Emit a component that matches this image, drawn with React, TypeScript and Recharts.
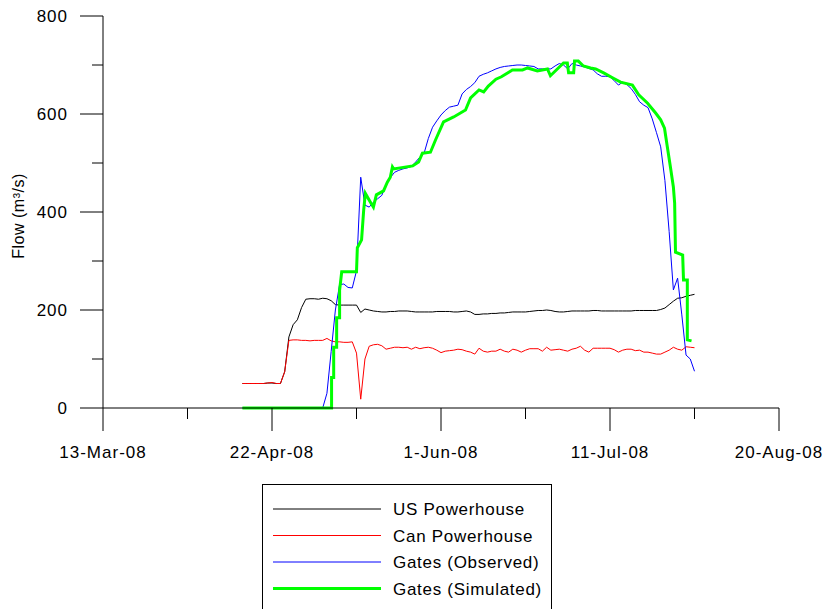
import { LineChart, Line, XAxis, YAxis } from "recharts";

// days counted from 13-Mar-08
const START_DAY = 33;
const X_TICKS = [0, 20, 40, 60, 80, 100, 120, 140, 160];
const Y_TICKS = [0, 100, 200, 300, 400, 500, 600, 700, 800];
const MONTHS = ["Jan", "Feb", "Mar", "Apr", "May", "Jun", "Jul", "Aug", "Sep", "Oct", "Nov", "Dec"];

// daily flows, m3/s
const usPowerhouse = [
  50, 50, 50, 50, 50, 50, 51, 51, 50, 50,
  74, 145, 170, 180, 205, 222, 223, 223, 222, 224,
  223, 219, 211, 210, 210, 210, 210, 210, 195, 202,
  200, 198, 197, 196, 196, 197, 197, 198, 198, 198,
  197, 196, 196, 196, 196, 196, 197, 197, 197, 197,
  196, 196, 197, 198, 196, 191, 191, 192, 192, 193,
  193, 194, 194, 195, 196, 196, 196, 196, 197, 198,
  199, 199, 200, 199, 197, 196, 196, 197, 198, 198,
  198, 198, 198, 199, 199, 198, 198, 198, 198, 198,
  198, 198, 198, 199, 199, 199, 199, 199, 199, 201,
  204, 211, 218, 224, 225, 228, 230, 232,
];

const canPowerhouse = [
  50, 50, 50, 50, 50, 50, 51, 52, 50, 50,
  74, 138, 139, 139, 138, 138, 137, 138, 138, 138,
  142, 137, 135, 135, 134, 134, 135, 112, 18, 100,
  126, 129, 130, 127, 120, 122, 124, 124, 123, 124,
  120, 124, 121, 123, 124, 122, 118, 113, 116, 117,
  118, 120, 119, 116, 114, 110, 122, 116, 114, 116,
  116, 120, 116, 114, 120, 118, 114, 118, 121, 121,
  121, 116, 124, 118, 119, 120, 118, 116, 120, 122,
  126, 118, 114, 122, 122, 122, 122, 122, 119, 114,
  118, 120, 120, 117, 118, 114, 114, 112, 110, 110,
  114, 118, 124, 120, 118, 125, 124, 123,
];

const gatesObserved = [
  0, 0, 0, 0, 0, 0, 0, 0, 0, 0,
  0, 0, 0, 0, 0, 0, 0, 0, 0, 0,
  30, 115, 200, 252, 253, 246, 245, 280, 471, 414,
  410, 420, 427, 434, 456, 470, 481, 485, 488, 490,
  493, 502, 512, 520, 550, 573, 586, 598, 607, 614,
  616, 618, 641, 650, 656, 664, 677, 681, 684, 688,
  692, 695, 697, 698, 699, 700, 700, 699, 698, 697,
  692, 692, 692, 692, 698, 703, 700, 692, 703, 700,
  698, 696, 693, 690, 682, 677, 677, 676, 668, 659,
  665, 660, 652, 640, 625, 618, 613, 590, 562, 533,
  464, 360, 241, 265, 190, 108, 100, 75,
];

// simulated gate flow, irregular time steps
const simDays = [
  33, 54.1, 54.1, 54.6, 54.6, 55.3, 55.3, 56.0, 56.0, 56.5,
  60.0, 60.2, 61.2, 61.7, 62.1, 63.3, 64.0, 64.7, 66.4, 67.3,
  68.0, 68.5, 68.8, 73.3, 74.7, 75.6, 77.5, 78.7, 80.6, 83.0,
  85.8, 87.0, 89.0, 90.1, 91.2, 93.0, 94.3, 96.9, 99.3, 100.5,
  102.8, 105.2, 105.9, 109.0, 109.9, 110.2, 111.4, 111.6, 112.5, 113.7,
  115.4, 116.6, 118.5, 120.8, 122.5, 125.3, 126.8, 128.9, 130.8, 132.0,
  132.9, 133.6, 134.3, 135.0, 135.3, 135.5, 137.2, 137.4, 138.3, 138.3,
  139.3,
];
const simFlow = [
  0, 0, 62, 62, 124, 124, 184, 184, 240, 278,
  278, 327, 343, 404, 438, 420, 410, 435, 443, 461,
  471, 492, 488, 494, 502, 520, 522, 547, 584, 594,
  608, 633, 649, 645, 657, 671, 676, 690, 690, 694,
  688, 692, 678, 704, 704, 684, 684, 708, 708, 698,
  694, 692, 684, 673, 665, 659, 639, 622, 602, 588,
  571, 531, 492, 451, 418, 318, 312, 261, 261, 139,
  137,
];

const data = usPowerhouse.map((us, i) => ({
  day: START_DAY + i,
  us,
  can: canPowerhouse[i],
  observed: gatesObserved[i],
}));
const simData = simDays.map((day, i) => ({ day, simulated: simFlow[i] }));

const SERIES = [
  { name: "US Powerhouse", color: "#000000", width: 1 },
  { name: "Can Powerhouse", color: "#ff0000", width: 1 },
  { name: "Gates (Observed)", color: "#0000ff", width: 1 },
  { name: "Gates (Simulated)", color: "#00ff00", width: 3 },
];

const FONT = "'Liberation Sans', Arial, sans-serif";

const fmtDate = (d: number) => {
  const dt = new Date(2008, 2, 13 + d);
  return `${dt.getDate()}-${MONTHS[dt.getMonth()]}-${String(dt.getFullYear()).slice(2)}`;
};

const XTick = ({ x, y, payload }: any) => {
  const major = payload.value % 40 === 0;
  return (
    <g>
      <line x1={x} y1={y} x2={x} y2={y + (major ? 23 : 11)} stroke="#000" />
      {major && (
        <text x={x} y={y + 50} textAnchor="middle" fontSize={17} letterSpacing={1} fill="#000" fontFamily={FONT}>
          {fmtDate(payload.value)}
        </text>
      )}
    </g>
  );
};

const YTick = ({ x, y, payload }: any) => {
  const major = payload.value % 200 === 0;
  return (
    <g>
      <line x1={x} y1={y} x2={x - (major ? 23 : 11)} y2={y} stroke="#000" />
      {major && (
        <text x={x - 35} y={y + 6} textAnchor="end" fontSize={17} letterSpacing={1} fill="#000" fontFamily={FONT}>
          {payload.value}
        </text>
      )}
    </g>
  );
};

const YLabel = ({ viewBox }: any) => {
  const cx = 18;
  const cy = viewBox.y + viewBox.height / 2 + 4;
  return (
    <text
      x={cx}
      y={cy}
      transform={`rotate(-90 ${cx} ${cy})`}
      textAnchor="middle"
      dominantBaseline="central"
      fontSize={16}
      letterSpacing={0.5}
      fill="#000"
      fontFamily={FONT}
    >
      Flow (m³/s)
    </text>
  );
};

export default function App() {
  return (
    <div style={{ position: "absolute", left: 0, top: 0, width: 823, height: 609, background: "#fff", fontFamily: FONT }}>
      <LineChart width={823} height={609} data={data} margin={{ top: 16, right: 44, bottom: 171, left: 43 }}>
        <XAxis
          dataKey="day"
          type="number"
          domain={[0, 160]}
          ticks={X_TICKS}
          interval={0}
          tickSize={0}
          tickMargin={0}
          tickLine={false}
          tick={<XTick />}
          axisLine={{ stroke: "#000" }}
          allowDuplicatedCategory={false}
        />
        <YAxis
          type="number"
          domain={[0, 800]}
          ticks={Y_TICKS}
          interval={0}
          width={60}
          tickSize={0}
          tickMargin={0}
          tickLine={false}
          tick={<YTick />}
          axisLine={{ stroke: "#000" }}
          label={<YLabel />}
        />
        <Line dataKey="us" stroke={SERIES[0].color} strokeWidth={SERIES[0].width} dot={false} isAnimationActive={false} />
        <Line dataKey="can" stroke={SERIES[1].color} strokeWidth={SERIES[1].width} dot={false} isAnimationActive={false} />
        <Line dataKey="observed" stroke={SERIES[2].color} strokeWidth={SERIES[2].width} dot={false} isAnimationActive={false} />
        <Line
          data={simData}
          dataKey="simulated"
          stroke={SERIES[3].color}
          strokeWidth={SERIES[3].width}
          dot={false}
          isAnimationActive={false}
        />
      </LineChart>

      <div
        style={{
          position: "absolute",
          left: 262,
          top: 484,
          width: 288,
          height: 140,
          border: "1px solid #000",
          background: "#fff",
        }}
      >
        <svg width={288} height={130}>
          {SERIES.map((s, i) => {
            const cy = 24 + i * 26.5;
            return (
              <g key={s.name}>
                <line x1={10} x2={118} y1={cy} y2={cy} stroke={s.color} strokeWidth={s.width} />
                <text x={130} y={cy + 6} fontSize={17} letterSpacing={0.7} fill="#000" fontFamily={FONT}>
                  {s.name}
                </text>
              </g>
            );
          })}
        </svg>
      </div>
    </div>
  );
}
